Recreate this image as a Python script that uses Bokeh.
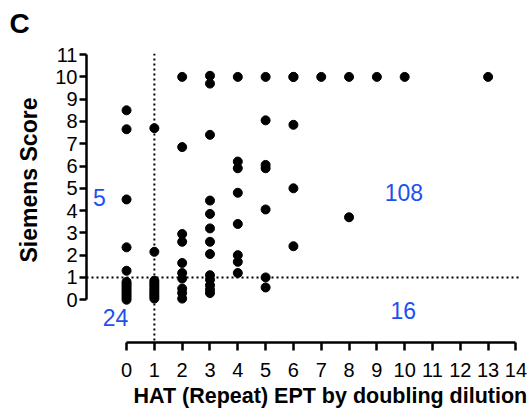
from bokeh.plotting import figure
from bokeh.models import Range1d, Span, Label, FixedTicker, Title
from bokeh.embed import file_html
from bokeh.resources import INLINE

# HAT (Repeat) EPT by doubling dilution  vs  Siemens Score
hat_ept = ([0] * 14 + [1] * 11 + [2] * 10 + [3] * 13 + [4] * 8 + [5] * 7 + [6] * 5
           + [7, 8, 8, 9, 10, 13])
siemens = ([8.5, 7.65, 4.5, 2.35, 1.3, 0.8, 0.7, 0.6, 0.5, 0.4, 0.3, 0.2, 0.1, 0.0]
           + [7.7, 2.15, 0.85, 0.75, 0.65, 0.55, 0.45, 0.35, 0.25, 0.15, 0.05]
           + [10, 6.85, 2.95, 2.6, 1.65, 1.2, 0.95, 0.5, 0.3, 0.05]
           + [10.05, 9.7, 7.4, 4.45, 3.85, 3.2, 2.6, 2.05, 1.1, 0.9, 0.65, 0.45, 0.3]
           + [10, 6.2, 5.9, 4.8, 3.4, 2.0, 1.7, 1.2]
           + [10, 8.05, 6.05, 5.9, 4.05, 1.0, 0.55]
           + [10, 10, 7.85, 5.0, 2.4]
           + [10, 10, 3.7, 10, 10, 10])

x_ticks = list(range(0, 15))
y_ticks = list(range(0, 12))
cutoff_x = 1
cutoff_y = 1
quadrant_counts = ["5", "24", "108", "16"]
panel_letter = "C"
x_title = "HAT (Repeat) EPT by doubling dilution"
y_title = "Siemens Score"

# layout (positions of the count labels, in data units)
count_pos_x = [-0.98, -0.4, 9.97, 9.95]
count_pos_y = [4.6, -0.8, 4.8, -0.5]

FONT = "Liberation Sans"
BLUE = "#1f4ff0"

p = figure(width=528, height=416,
           x_range=Range1d(-1.44, 14.2), y_range=Range1d(-1.92, 11.05),
           output_backend="svg", toolbar_location=None,
           min_border_left=86, min_border_right=7,
           min_border_top=53, min_border_bottom=74)
p.grid.visible = False
p.outline_line_color = None
p.background_fill_color = "white"

for ax, ticks, bnds in ((p.xaxis[0], x_ticks, (0, 14)), (p.yaxis[0], y_ticks, (0, 11))):
    ax.ticker = FixedTicker(ticks=ticks)
    ax.bounds = bnds
    ax.axis_line_width = 2.5
    ax.axis_line_color = "black"
    ax.major_tick_line_width = 2.5
    ax.major_tick_line_color = "black"
    ax.major_tick_in = 0
    ax.minor_tick_line_color = None
    ax.major_label_text_font = FONT
    ax.major_label_text_font_size = "20px"
    ax.major_label_text_color = "black"

p.xaxis.major_tick_out = 8
p.xaxis.major_label_standoff = 12
p.yaxis.major_tick_out = 7
p.yaxis.major_label_standoff = 2

p.add_layout(Title(text=x_title, align="left", offset=47, standoff=8,
                   vertical_align="top", text_color="black", text_font=FONT,
                   text_font_size="21.5px", text_font_style="bold"), "below")
p.add_layout(Title(text=y_title, align="left", offset=80, standoff=21,
                   vertical_align="bottom", text_color="black", text_font=FONT,
                   text_font_size="23px", text_font_style="bold"), "left")

p.add_layout(Span(location=cutoff_x, dimension="height", line_color="black",
                  line_width=2, line_dash="2 3"))
p.add_layout(Span(location=cutoff_y, dimension="width", line_color="black",
                  line_width=2, line_dash="2 3"))

p.scatter(hat_ept, siemens, size=9, color="black")

for txt, cx, cy in zip(quadrant_counts, count_pos_x, count_pos_y):
    p.add_layout(Label(x=cx, y=cy, text=txt, text_align="center",
                       text_baseline="middle", text_color=BLUE,
                       text_font=FONT, text_font_size="23px"))

# spacer between the frame and the panel letter
p.add_layout(Title(text=" ", standoff=2, text_font_size="10px"), "above")
p.add_layout(Title(text=panel_letter, align="left", offset=-77, standoff=0,
                   vertical_align="bottom", text_color="black",
                   text_font=FONT, text_font_size="28px", text_font_style="bold"),
             "above")

open("out.html", "w").write(file_html(p, INLINE))
